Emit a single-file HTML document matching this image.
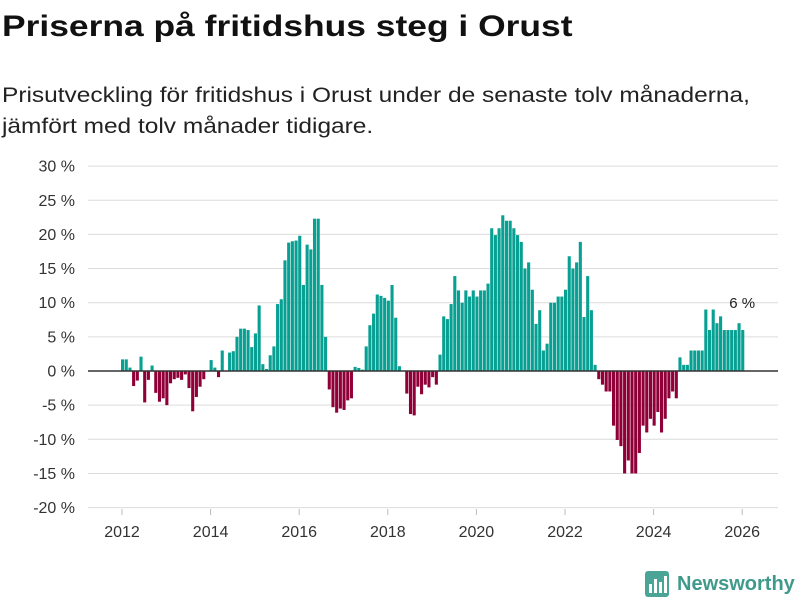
<!DOCTYPE html>
<html><head><meta charset="utf-8"><style>
body{margin:0;background:#fff;font-family:"Liberation Sans",sans-serif;}
#wrap{position:relative;width:800px;height:600px;overflow:hidden;}
h1{position:absolute;left:2px;top:10px;margin:0;font-size:30px;font-weight:bold;color:#111;white-space:nowrap;transform:scaleX(1.18);transform-origin:0 0;}
.sub{position:absolute;left:2px;top:80px;margin:0;font-size:21px;line-height:31px;color:#222;white-space:nowrap;transform:scaleX(1.165);transform-origin:0 0;}
</style></head><body>
<div id="wrap">
<h1>Priserna på fritidshus steg i Orust</h1>
<p class="sub">Prisutveckling för fritidshus i Orust under de senaste tolv månaderna,<br>jämfört med tolv månader tidigare.</p>
<svg id="chart" width="800" height="600" style="position:absolute;left:0;top:0"></svg>
</div>
<script>
const values = [
1.7,1.7,0.5,-2.2,-1.4,2.1,-4.6,-1.3,0.8,-3.2,-4.5,-4,
-5,-1.8,-1.2,-1,-1.3,-0.5,-2.5,-5.9,-3.8,-2.3,-1.2,0,
1.6,0.5,-0.9,3,0,2.7,2.9,5,6.2,6.2,6.0,3.5,
5.5,9.6,1,0.3,2.3,3.6,9.8,10.5,16.2,18.8,19,19.1,
19.8,12.6,18.5,17.8,22.3,22.3,12.6,5,
-2.7,-5.3,-6.1,-5.5,-5.7,-4.3,-4,0.6,0.45,0.2,3.6,6.7,8.4,11.2,11,10.7,10.3,12.6,7.8,0.7,0,
-3.3,-6.3,-6.5,-2.3,-3.4,-2,-2.4,-0.9,-2,
2.4,8,7.6,9.8,13.9,11.8,10,11.8,10.9,11.8,10.9,11.8,11.8,12.8,20.9,19.9,20.9,22.8,22,22,20.9,19.9,18.9,15,15.9,11.9,6.9,8.9,3,4,10,10,10.9,10.9,11.9,16.8,15,15.9,18.9,7.9,13.9,8.9,0.9,
-1.2,-2,-3,-3,-8,-10.1,-11,-15,-13.1,-15,-15,-12,-8,-9,-7,-8,-6,-9,-7,-4,-3,-4,
2,0.9,0.9,3,3,3,3,9,6,9,7,8,6,6,6,6,7,6
];
const yTicks = [30,25,20,15,10,5,0,-5,-10,-15,-20];
const xTicks = [2012,2014,2016,2018,2020,2022,2024,2026];
const startYear = 2012;

const NS="http://www.w3.org/2000/svg";
const svg=document.getElementById('chart');
function y(v){return 371 - v*6.83;}
function xYear(yr){return 122 + (yr-2012)*44.3;}
function xIdx(i){return xYear(startYear + i/12) - 1;}
function mk(tag,attrs){const e=document.createElementNS(NS,tag);for(const k in attrs)e.setAttribute(k,attrs[k]);svg.appendChild(e);return e;}

yTicks.forEach(t=>{
  const g=mk('line',{x1:88,x2:778,y1:y(t),y2:y(t),stroke:'#dcdcdc','stroke-width':1});
  
  
  const l=mk('text',{x:75,y:y(t)+5.5,'text-anchor':'end','font-size':16,fill:'#333','font-family':'Liberation Sans, sans-serif'});
  l.textContent=t+' %';
  
  
});
xTicks.forEach(t=>{
  const tk=mk('line',{x1:xYear(t),x2:xYear(t),y1:509,y2:515,stroke:'#bbb'});
  
  
  const l=mk('text',{x:xYear(t),y:537,'text-anchor':'middle','font-size':16,fill:'#333','font-family':'Liberation Sans, sans-serif'});
  l.textContent=t;
  
  
});
values.forEach((v,i)=>{
  const top=Math.min(y(v),y(0)), h=Math.abs(y(v)-y(0));
  const b=mk('rect',{x:xIdx(i),y:top,width:3.1,height:h,fill:v>=0?'#08a092':'#900038'});
  
  
});
const z=mk('line',{x1:88,x2:778,y1:y(0),y2:y(0),stroke:'#333','stroke-width':1.5});


const li=values.length-1;
const lab=mk('text',{x:xIdx(li)+1,y:y(values[li])-22,'text-anchor':'middle','font-size':15,fill:'#222','font-family':'Liberation Sans, sans-serif'});
lab.textContent=Math.round(values[li])+' %';


</script>
<svg width="170" height="36" style="position:absolute;left:640px;top:566px">
  <rect x="5" y="5" width="24" height="26" rx="3" fill="#4aa596"/>
  <rect x="9" y="18" width="3" height="9" fill="#fff"/>
  <rect x="14" y="13" width="3" height="14" fill="#fff"/>
  <rect x="19" y="16" width="3" height="11" fill="#fff"/>
  <rect x="24" y="10" width="3" height="17" fill="#fff"/>
  <text x="37" y="24" font-size="20" font-weight="bold" fill="#3f9a8b" font-family="Liberation Sans, sans-serif">Newsworthy</text>
</svg>
</body></html>
